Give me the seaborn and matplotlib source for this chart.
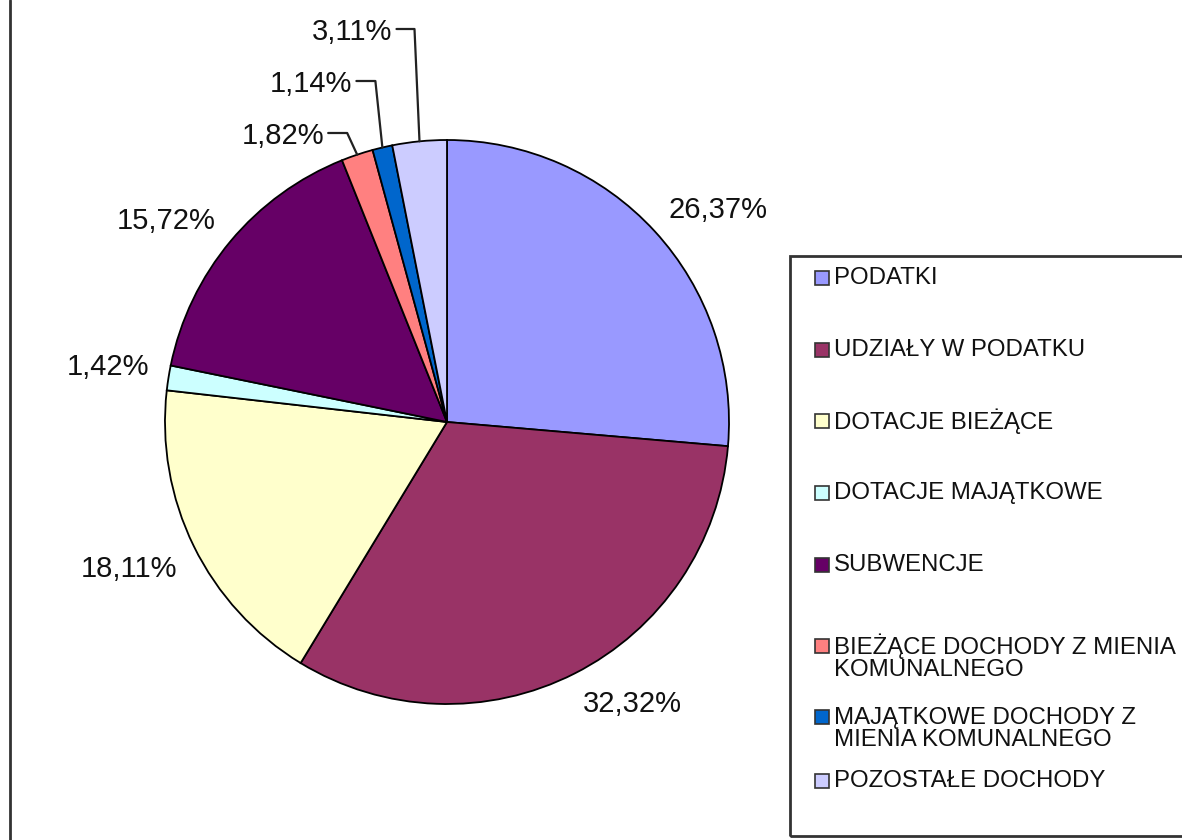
import numpy as np
import matplotlib
matplotlib.use("Agg")
import matplotlib.pyplot as plt
import seaborn as sns
from matplotlib.patches import Rectangle
from matplotlib.lines import Line2D

# data
categories = ["PODATKI", "UDZIAŁY W PODATKU", "DOTACJE BIEŻĄCE", "DOTACJE MAJĄTKOWE",
              "SUBWENCJE", "BIEŻĄCE DOCHODY Z MIENIA\nKOMUNALNEGO",
              "MAJĄTKOWE DOCHODY Z\nMIENIA KOMUNALNEGO", "POZOSTAŁE DOCHODY"]
shares = [26.37, 32.32, 18.11, 1.42, 15.72, 1.82, 1.14, 3.11]
colors = ["#9999FF", "#993366", "#FFFFCC", "#CCFFFF",
          "#660066", "#FF8080", "#0066CC", "#CCCCFF"]

sns.set_style("white")
plt.rcParams['font.family'] = ['Liberation Sans', 'DejaVu Sans']

W, H = 1182, 840
fig = plt.figure(figsize=(W / 100, H / 100), dpi=100)

# pie centre and radius in pixels
cx, cy, R = 447, 422, 282
lim = 1.6
side = 2 * lim * R
ax = fig.add_axes([(cx - side / 2) / W, (H - cy - side / 2) / H, side / W, side / H])

wedges, texts, autotexts = ax.pie(
    shares, colors=colors, startangle=90, counterclock=False,
    autopct=lambda p: f"{p:.2f}".replace(".", ",") + "%",
    pctdistance=1.2,
    wedgeprops=dict(edgecolor="black", linewidth=1.3),
    textprops=dict(fontsize=21, color="#111111"))
ax.set_xlim(-lim, lim)
ax.set_ylim(-lim, lim)
ax.axis("off")

gap = 19    # px between pie edge and label corner
cap = 22    # px height of the digits

# small slices get labels moved up-left with elbow leader lines
small = {5: (133, 33, 10), 6: (81, 30, 7), 7: (29, 27, 5)}

for i, (w, t) in enumerate(zip(wedges, autotexts)):
    mid = np.deg2rad((w.theta1 + w.theta2) / 2)
    c, s = np.cos(mid), np.sin(mid)
    t.set_va("baseline")
    if i in small:
        yc, dx_text, dx_elbow = small[i]
        ty = (cy - yc) / R
        tx = c - dx_text / R
        t.set_position((tx, ty - cap / 2 / R))
        t.set_ha("right")
        ax.plot([tx + 4 / R, c - dx_elbow / R, c], [ty, ty, s],
                color="#222222", lw=1.6, clip_on=False)
    else:
        r = 1 + gap / R
        x, y = r * c, r * s
        if s < 0:
            y -= cap / R
        t.set_position((x, y))
        t.set_ha("left" if c > 0 else "right")

# legend drawn as in the spreadsheet: boxed, wide row spacing
fig.patches.append(Rectangle((790 / W, 1 - 836 / H), 500 / W, (836 - 256) / H,
                             transform=fig.transFigure, fill=False,
                             edgecolor="#333333", linewidth=2))
row_y = [278, 350, 421, 493, 565, 657.5, 729, 781]
first_line_y = [278, 350, 421, 493, 565, 646, 717, 781]
for lab, col, yc, y1 in zip(categories, colors, row_y, first_line_y):
    fig.patches.append(Rectangle((815 / W, 1 - (y1 + 7) / H), 14 / W, 14 / H,
                                 transform=fig.transFigure, facecolor=col,
                                 edgecolor="#333333", linewidth=1.2))
    fig.text(834 / W, 1 - yc / H, lab, fontsize=17.3, color="#111111",
             va="center", ha="left", linespacing=1.0)

# left border of the chart area
fig.lines.append(Line2D([10 / W, 10 / W], [0, 1], transform=fig.transFigure,
                        color="#333333", linewidth=2))

fig.savefig("out.png", dpi=100, facecolor="white")
